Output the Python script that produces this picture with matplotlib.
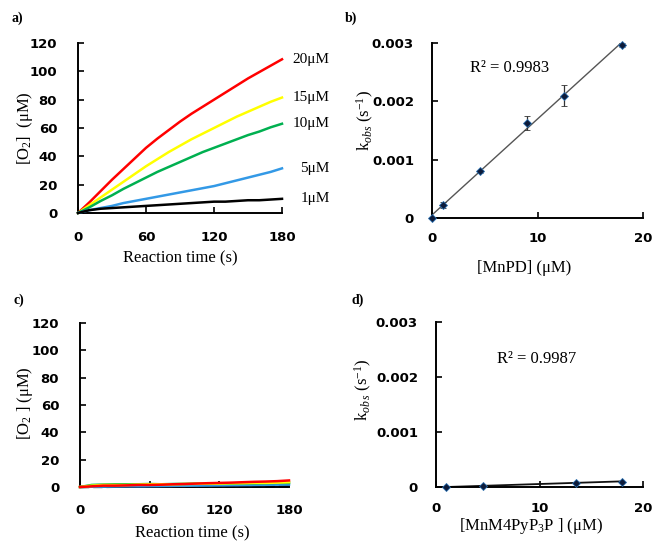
import numpy as np
import matplotlib
matplotlib.use('Agg')
import matplotlib.pyplot as plt

plt.rcParams['mathtext.fontset'] = 'custom'
plt.rcParams['mathtext.rm'] = 'Liberation Serif'
plt.rcParams['mathtext.it'] = 'Liberation Serif:italic'
plt.rcParams['mathtext.bf'] = 'Liberation Serif:bold'

# ---- data ----
time_s = [0, 10, 20, 30, 40, 50, 60, 70, 80, 90, 100, 110, 120, 130, 140, 150, 160, 170, 180]
conc_labels = ['20\u03bcM', '15\u03bcM', '10\u03bcM', '5\u03bcM', '1\u03bcM']
curve_colors = ['#ff0000', '#ffff00', '#00b050', '#3399e6', '#000000']

o2_mnpd = [
    [0, 7.5, 15.5, 23.5, 31, 38.5, 46, 52.5, 58.5, 64.5, 70, 75, 80, 85, 90, 95, 99.5, 104, 108.5],
    [0, 5.5, 11, 16.5, 22, 27.5, 33, 38, 43, 47.5, 52, 56, 60, 64, 68, 71.5, 75, 78.5, 81.5],
    [0, 4, 8.5, 12.5, 17, 21, 25, 29, 32.5, 36, 39.5, 43, 46, 49, 52, 55, 57.5, 60.5, 63],
    [0, 2, 3.5, 5, 7, 8.5, 10, 11.5, 13, 14.5, 16, 17.5, 19, 21, 23, 25, 27, 29, 31.5],
    [0, 2, 3, 3.5, 4, 4.5, 5, 5.5, 6, 6.5, 7, 7.5, 8, 8, 8.5, 9, 9, 9.5, 10],
]

o2_mnm4 = [
    [0, 0.5, 1, 1, 1.2, 1.5, 1.5, 1.7, 2, 2.2, 2.5, 2.8, 3, 3.2, 3.5, 3.8, 4, 4.3, 4.8],
    [0, 1, 1.5, 1.5, 1.5, 1.8, 2, 2, 2, 2.2, 2.3, 2.5, 2.5, 2.7, 2.8, 3, 3, 3.2, 3.5],
    [0, 1.5, 1.8, 2, 2, 2, 2.2, 2, 2.2, 2.3, 2.5, 2.3, 2.5, 2.5, 2.7, 2.7, 2.8, 3, 3],
    [0, 0.2, 0.3, 0.4, 0.5, 0.5, 0.6, 0.7, 0.8, 0.9, 1, 1.1, 1.2, 1.3, 1.4, 1.5, 1.6, 1.7, 1.8],
    [0, 0.1, 0.1, 0.2, 0.2, 0.2, 0.3, 0.3, 0.3, 0.3, 0.4, 0.4, 0.4, 0.4, 0.5, 0.5, 0.5, 0.5, 0.5],
]

mnpd_conc = [0, 1, 4.5, 9, 12.5, 18]
mnpd_kobs = [0, 0.00022, 0.0008, 0.00163, 0.0021, 0.00297]
mnpd_err = [0, 0.00005, 0.00002, 0.00012, 0.00018, 0.00003]

mnm4_conc = [1, 4.5, 13.5, 18]
mnm4_kobs = [0.0, 0.00002, 0.00008, 0.0001]

r2_b = 'R\u00b2 = 0.9983'
r2_d = 'R\u00b2 = 0.9987'

serif = 'Liberation Serif'
tick_font = {'family': 'DejaVu Sans', 'weight': 'bold', 'size': 9.5}

fig = plt.figure(figsize=(6.54, 5.41), dpi=100)

ax_a = fig.add_axes([0.1193, 0.6063, 0.3119, 0.3142])
ax_b = fig.add_axes([0.6606, 0.5970, 0.3226, 0.3235])
ax_c = fig.add_axes([0.1223, 0.0998, 0.3196, 0.3031])
ax_d = fig.add_axes([0.6667, 0.0998, 0.3165, 0.3050])


def style(ax, xticks, yticks, ylabels, xpad=13, ypad=14):
    for s in ['top', 'right']:
        ax.spines[s].set_visible(False)
    for s in ['left', 'bottom']:
        ax.spines[s].set_linewidth(1.4)
    ax.set_xticks(xticks)
    ax.set_xticklabels([str(t) for t in xticks])
    ax.set_yticks(yticks)
    ax.set_yticklabels(ylabels)
    ax.tick_params(direction='in', length=4, width=1.2)
    ax.tick_params(axis='x', pad=xpad)
    ax.tick_params(axis='y', pad=ypad)
    for lab in ax.get_xticklabels() + ax.get_yticklabels():
        lab.set_fontproperties(tick_font)


# a) O2 evolution with MnPD
for ys, col in zip(o2_mnpd, curve_colors):
    ax_a.plot(time_s, ys, color=col, lw=1.8, clip_on=False, zorder=3)
for ys, lab in zip(o2_mnpd, conc_labels):
    ax_a.text(222, ys[-1], lab, ha='right', va='center', fontsize=11,
              family=serif, clip_on=False)
ax_a.set_xlim(0, 180)
ax_a.set_ylim(0, 120)
style(ax_a, [0, 60, 120, 180], [0, 20, 40, 60, 80, 100, 120],
      ['0', '20', '40', '60', '80', '100', '120'], ypad=15)
ax_a.set_xlabel('Reaction time (s)', family=serif, fontsize=12, va='center')
ax_a.xaxis.set_label_coords(0.5, -0.265)
ax_a.set_ylabel('[O$_2$]  (\u03bcM)', family=serif, fontsize=12, va='center')
ax_a.yaxis.set_label_coords(-0.26, 0.5)

# b) kobs vs [MnPD]
fit = np.polyfit(mnpd_conc, mnpd_kobs, 1)
xf = np.array([min(mnpd_conc), max(mnpd_conc)])
ax_b.plot(xf, np.polyval(fit, xf), color='#555555', lw=1.0, zorder=2)
ax_b.errorbar(mnpd_conc, mnpd_kobs, yerr=mnpd_err, fmt='D', ms=4,
              color='#0d1b3a', mec='#2a6fb0', mew=0.6, ecolor='#333333',
              elinewidth=0.9, capsize=2.5, capthick=0.9, clip_on=False, zorder=3)
ax_b.text(3.6, 0.00257, r2_b, family=serif, fontsize=12, va='center')
ax_b.set_xlim(0, 20)
ax_b.set_ylim(0, 0.003)
style(ax_b, [0, 10, 20], [0, 0.001, 0.002, 0.003],
      ['0', '0.001', '0.002', '0.003'], xpad=10, ypad=13)
ax_b.set_xlabel('[MnPD] (\u03bcM)', family=serif, fontsize=12, va='center')
ax_b.xaxis.set_label_coords(0.436, -0.286)
ax_b.set_ylabel(r'k$_{\mathit{obs}}$ (s$^{-1}$)', family=serif, fontsize=12, va='center')
ax_b.yaxis.set_label_coords(-0.318, 0.56)

# c) O2 evolution with MnM4PyP3P
for ys, col in zip(o2_mnm4[::-1], curve_colors[::-1]):
    ls = '--' if col == '#000000' else '-'
    ax_c.plot(time_s, ys, color=col, lw=1.8, ls=ls, clip_on=False, zorder=3)
ax_c.set_xlim(0, 180)
ax_c.set_ylim(0, 120)
style(ax_c, [0, 60, 120, 180], [0, 20, 40, 60, 80, 100, 120],
      ['0', '20', '40', '60', '80', '100', '120'], xpad=12, ypad=15)
ax_c.set_xlabel('Reaction time (s)', family=serif, fontsize=12, va='center')
ax_c.xaxis.set_label_coords(0.536, -0.285)
ax_c.set_ylabel('[O$_2$ ] (\u03bcM)', family=serif, fontsize=12, va='center')
ax_c.yaxis.set_label_coords(-0.263, 0.51)

# d) kobs vs [MnM4PyP3P]
fit_d = np.polyfit(mnm4_conc, mnm4_kobs, 1)
xd = np.array([min(mnm4_conc), max(mnm4_conc)])
ax_d.plot(xd, np.polyval(fit_d, xd), color='#111111', lw=1.3, zorder=2)
ax_d.plot(mnm4_conc, mnm4_kobs, 'D', ms=4, color='#0d1b3a', mec='#2a6fb0',
          mew=0.6, clip_on=False, zorder=3)
ax_d.text(5.9, 0.00233, r2_d, family=serif, fontsize=12, va='center')
ax_d.set_xlim(0, 20)
ax_d.set_ylim(0, 0.003)
style(ax_d, [0, 10, 20], [0, 0.001, 0.002, 0.003],
      ['0', '0.001', '0.002', '0.003'], xpad=11, ypad=13)
ax_d.set_xlabel('[MnM4PyP$_3$P ] (\u03bcM)', family=serif, fontsize=12, va='center')
ax_d.xaxis.set_label_coords(0.46, -0.235)
ax_d.set_ylabel(r'k$_{\mathit{ob\,s}}$ (s$^{-1}$)', family=serif, fontsize=12, va='center')
ax_d.yaxis.set_label_coords(-0.353, 0.59)

# panel letters
for x, y, s in [(12, 18, 'a)'), (345, 18, 'b)'), (14, 300, 'c)'), (352, 300, 'd)')]:
    fig.text(x / 654, 1 - y / 541, s, family=serif, weight='bold', fontsize=10,
             va='center', ha='left')

fig.savefig('out.png', dpi=100)
